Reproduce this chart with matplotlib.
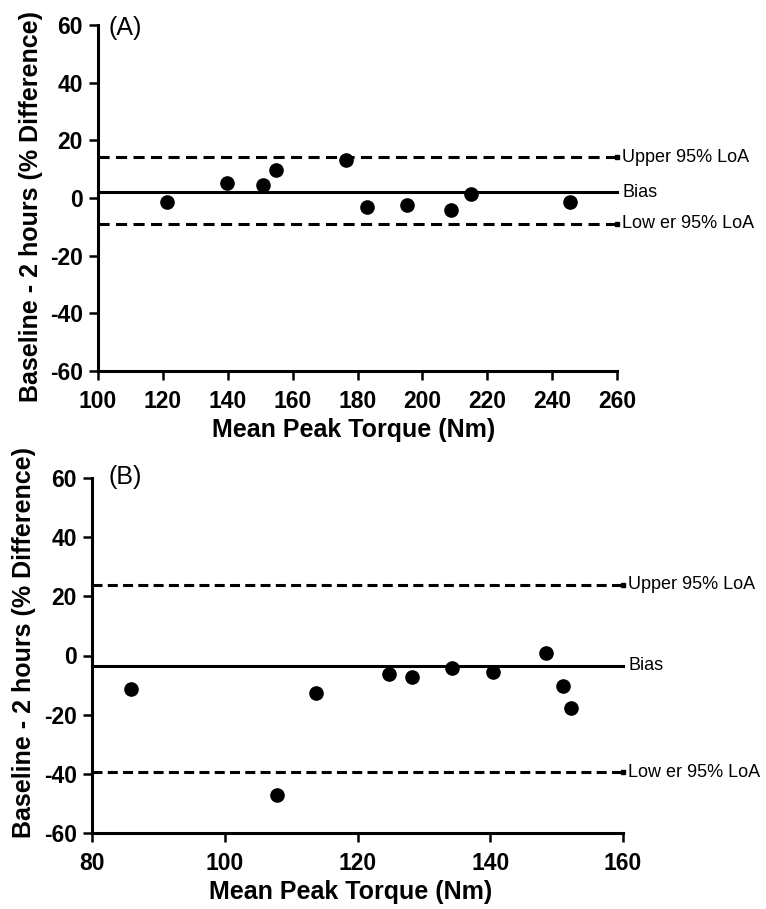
import matplotlib
matplotlib.use("Agg")
import matplotlib.pyplot as plt
import numpy as np

plt.rcParams['font.family'] = ['Liberation Sans', 'DejaVu Sans']
plt.rcParams['lines.scale_dashes'] = False
plt.rcParams['axes.unicode_minus'] = False

# panel A
a_x = [121.2, 139.7, 150.9, 154.9, 176.6, 183.0, 195.3, 208.8, 215.1, 245.5]
a_y = [-1.5, 5.3, 4.4, 9.8, 13.2, -3.0, -2.4, -4.2, 1.4, -1.5]
a_bias = 2.0
a_upper = 14.2
a_lower = -8.9

# panel B
b_x = [85.9, 107.8, 113.7, 124.8, 128.2, 134.2, 140.4, 148.4, 151.0, 152.1]
b_y = [-11.3, -47.2, -12.6, -6.4, -7.2, -4.1, -5.5, 0.9, -10.4, -17.9]
b_bias = -3.5
b_upper = 24.0
b_lower = -39.4

yticks = [-60, -40, -20, 0, 20, 40, 60]
a_xticks = [100, 120, 140, 160, 180, 200, 220, 240, 260]
b_xticks = [80, 100, 120, 140, 160]

W, H = 766, 909
fig = plt.figure(figsize=(W / 100, H / 100), dpi=100)


def px_axes(l, t, r, b):
    return fig.add_axes([l / W, 1 - b / H, (r - l) / W, (b - t) / H])


def panel(ax, xs, ys, bias, upper, lower, xticks, dash):
    x0, x1 = xticks[0], xticks[-1]
    ax.set_xlim(x0, x1)
    ax.set_ylim(-60, 60)
    ax.plot([x0, x1], [bias, bias], color='k', lw=2.2, clip_on=False)
    for v in (upper, lower):
        ax.plot([x0, x1], [v, v], color='k', lw=2.2, dashes=dash, clip_on=False)
        ax.plot([x1], [v], marker='s', ms=2.2, color='k', clip_on=False)
    ax.plot(xs, ys, 'o', color='k', ms=9.5, clip_on=False, zorder=5)
    tr = ax.get_yaxis_transform()
    ax.text(1.01, upper, 'Upper 95% LoA', transform=tr, fontsize=13, va='center', ha='left')
    ax.text(1.01, bias, 'Bias', transform=tr, fontsize=13, va='center', ha='left')
    ax.text(1.01, lower, 'Low er 95% LoA', transform=tr, fontsize=13, va='center', ha='left')
    ax.set_xticks(xticks)
    ax.set_yticks(yticks)
    for s in ['top', 'right']:
        ax.spines[s].set_visible(False)
    for s in ['left', 'bottom']:
        ax.spines[s].set_linewidth(2.2)
    ax.tick_params(direction='out', length=6.5, width=1.8, labelsize=16.5)
    ax.tick_params(axis='x', pad=7.5)
    ax.tick_params(axis='y', pad=4.5)
    for lab in ax.get_xticklabels() + ax.get_yticklabels():
        lab.set_fontweight('bold')


axA = px_axes(98, 25, 617, 371)
panel(axA, a_x, a_y, a_bias, a_upper, a_lower, a_xticks, (8, 4.6))
axB = px_axes(92, 478, 623, 833)
panel(axB, b_x, b_y, b_bias, b_upper, b_lower, b_xticks, (7.2, 3.8))

ylab = 'Baseline - 2 hours (% Difference)'
xlab = 'Mean Peak Torque (Nm)'
fig.text(31 / W, 1 - 206 / H, ylab, rotation=90, ha='center', va='center', fontsize=18, fontweight='bold')
fig.text(24 / W, 1 - 642 / H, ylab, rotation=90, ha='center', va='center', fontsize=18, fontweight='bold')
fig.text(354 / W, 1 - 430 / H, xlab, ha='center', va='center', fontsize=18, fontweight='bold')
fig.text(351 / W, 1 - 892 / H, xlab, ha='center', va='center', fontsize=18, fontweight='bold')

fig.text(108 / W, 1 - 28 / H, '(A)', ha='left', va='center', fontsize=18)
fig.text(108 / W, 1 - 477 / H, '(B)', ha='left', va='center', fontsize=18)

fig.savefig('out.png', dpi=100)
